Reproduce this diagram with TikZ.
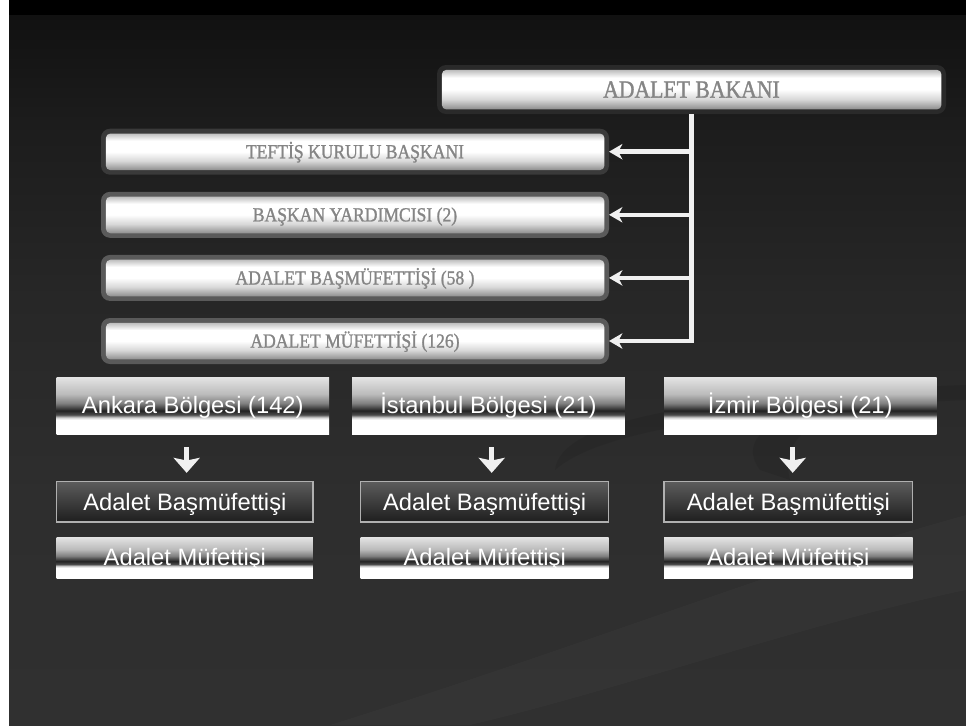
\documentclass[tikz,border=0pt]{standalone}
\usepackage{fontspec}
\setmainfont{Liberation Sans}
\newfontfamily\capsfont[FakeStretch=0.88, FakeBold=1.2]{Liberation Serif}
\usetikzlibrary{arrows.meta}
\definecolor{capgray}{HTML}{858585}
\definecolor{ringA}{HTML}{2A2A2A}
\definecolor{ringB}{HTML}{3A3A3A}
\definecolor{ringC}{HTML}{5A5A5A}
\definecolor{linecol}{HTML}{F0F0F0}
\definecolor{cA}{HTML}{808080}
\definecolor{cB}{HTML}{9A9A9A}
\definecolor{cC}{HTML}{D8D8D8}
\definecolor{cD}{HTML}{B4B4B4}
\definecolor{rTop}{HTML}{E4E4E4}
\definecolor{rB}{HTML}{BBBBBB}
\definecolor{rC}{HTML}{808080}
\definecolor{rD}{HTML}{222222}
\definecolor{rE}{HTML}{4A4A4A}
\definecolor{rF}{HTML}{D0D0D0}
\definecolor{bg1}{HTML}{111111}
\definecolor{bg2}{HTML}{1C1C1C}
\definecolor{bg3}{HTML}{272727}
\definecolor{bg4}{HTML}{2E2E2E}
\definecolor{bg5}{HTML}{303030}
\definecolor{dTop}{HTML}{5C5C5C}
\definecolor{dBot}{HTML}{1E1E1E}
\definecolor{dBorder}{HTML}{B0B0B0}
\pgfdeclareverticalshading{chrome}{100bp}{color(0bp)=(cB); color(25bp)=(cB); color(28bp)=(cA); color(40bp)=(cC); color(50bp)=(white); color(62bp)=(white); color(71bp)=(cD); color(75bp)=(cA); color(100bp)=(cA)}
\pgfdeclareverticalshading{regchrome}{100bp}{color(0bp)=(white); color(37.5bp)=(white); color(39.5bp)=(rF); color(42bp)=(rE); color(45.5bp)=(rD); color(52bp)=(rC); color(60bp)=(rB); color(75bp)=(rTop); color(100bp)=(rTop)}
\pgfdeclareverticalshading{bgshade}{100bp}{color(0bp)=(bg5); color(25bp)=(bg5); color(41bp)=(bg4); color(55bp)=(bg3); color(67.5bp)=(bg2); color(75bp)=(bg1); color(100bp)=(bg1)}
\tikzset{
  topbox/.style={rectangle, rounded corners=6.75pt, fill=#1, minimum width=381pt,
    minimum height=34.5pt, inner sep=0pt, outer sep=0pt, text=capgray,
    font=\capsfont\fontsize{15}{16}\selectfont, text height=9.9pt, text depth=0pt,
    path picture={\shade[shading=chrome, rounded corners=3.5pt]
      ([shift={(3.6pt,3.4pt)}]path picture bounding box.south west) rectangle
      ([shift={(-3.4pt,-3.6pt)}]path picture bounding box.north east);}},
  sanstext/.style={text=white, font=\fontsize{17.8}{20}\selectfont,
    text height=12.7pt, text depth=0pt, inner sep=0pt, outer sep=0pt},
  region/.style={rectangle, shade, shading=regchrome, minimum width=204.4pt,
    minimum height=42.75pt, sanstext},
  subdark/.style={rectangle, top color=dTop, bottom color=dBot, draw=dBorder,
    line width=0.9pt, minimum width=#1, minimum height=30.4pt, sanstext},
  subchrome/.style={rectangle, shade, shading=regchrome, minimum width=#1,
    minimum height=30.75pt, sanstext},
  conn/.style={draw=linecol, line width=3.4pt,
    -{Stealth[length=10pt, width=11.5pt, inset=3pt]}},
  dn/.style={draw=linecol, line width=3.4pt, shorten <=9.75pt, shorten >=6.5pt,
    -{Stealth[length=11.25pt, width=19.5pt, inset=2pt]}}
}
\begin{document}
\begin{tikzpicture}[x=0.75pt, y=-0.75pt]
\useasboundingbox (0,0) rectangle (966,725);
% background
\fill[white] (0,0) rectangle (9,725);
\shade[shading=bgshade] (9,15) rectangle (966,725);
\fill[black] (9,0) rectangle (966,15);
% faint swooshes
\fill[white, opacity=0.02] (330,725) .. controls (600,640) and (800,560) .. (966,515)
  -- (966,590) .. controls (800,625) and (620,690) .. (470,725) -- cycle;
\fill[black, opacity=0.08] (555,470) .. controls (560,420) and (700,395) .. (966,385)
  -- (966,400) .. controls (740,410) and (600,430) .. (555,470) -- cycle;
\fill[black, opacity=0.07] (760,470) .. controls (730,430) and (800,405) .. (870,400)
  .. controls (810,420) and (780,440) .. (790,480) -- cycle;

% top nodes
\node[topbox=ringA, minimum width=381.75pt, minimum height=36.75pt,
  font=\capsfont\fontsize{18.5}{20}\selectfont, text height=12.2pt] (bakan) at (691.5,89.5) {ADALET BAKANI};
\node[topbox=ringB] (m1) at (355,151.7) {TEFTİŞ KURULU BAŞKANI};
\node[topbox=ringC] (m2) at (355,214.8) {BAŞKAN YARDIMCISI (2)};
\node[topbox=ringC] (m3) at (355,277.9) {ADALET BAŞMÜFETTİŞİ (58 )};
\node[topbox=ringC] (m4) at (355,341) {ADALET MÜFETTİŞİ (126)};

% trunk connectors
\draw[conn] (bakan.south) |- (m4.east);
\draw[conn] (bakan.south) |- (m3.east);
\draw[conn] (bakan.south) |- (m2.east);
\draw[conn] (bakan.south) |- (m1.east);

% regions
\node[region] (ank) at (192.8,405.5) {Ankara Bölgesi (142)};
\node[region] (ist) at (488.5,405.5) {İstanbul Bölgesi (21)};
\node[region] (izm) at (800.3,405.5) {İzmir Bölgesi (21)};

\node[subdark=192.2pt] (ankB) at (184.85,501.8) {Adalet Başmüfettişi};
\node[subdark=186pt] (istB) at (484.7,501.8) {Adalet Başmüfettişi};
\node[subdark=186.5pt] (izmB) at (788.35,501.8) {Adalet Başmüfettişi};

\node[subchrome=192.2pt] (ankM) at (184.85,557.5) {Adalet Müfettişi};
\node[subchrome=186pt] (istM) at (484.7,557.5) {Adalet Müfettişi};
\node[subchrome=186.5pt] (izmM) at (788.35,557.5) {Adalet Müfettişi};

% down arrows
\draw[dn] ([xshift=-4.6pt]ank.south) -- ([xshift=-4.6pt]ank.south |- ankB.north);
\draw[dn] ([xshift=2.4pt]ist.south) -- ([xshift=2.4pt]ist.south |- istB.north);
\draw[dn] ([xshift=-5.7pt]izm.south) -- ([xshift=-5.7pt]izm.south |- izmB.north);
\end{tikzpicture}
\end{document}
